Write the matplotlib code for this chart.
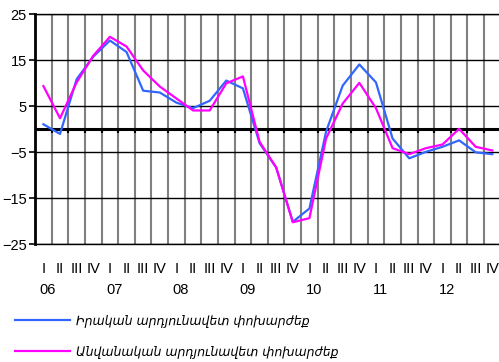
import numpy as np
import matplotlib.pyplot as plt
from matplotlib.font_manager import FontProperties

plt.rcParams['font.family'] = ['Liberation Sans', 'DejaVu Sans']

# Quarterly data, 2006 Q1 - 2012 Q4
# -----------------------------------------------------------------------------
quarters = ["I", "II", "III", "IV"] * 7
years = ["06", "07", "08", "09", "10", "11", "12"]

real_eer = [1.1, -1.0, 10.9, 15.8, 19.3, 16.8, 8.4, 8.0, 5.8, 4.6,
            6.2, 10.6, 8.9, -3.0, -8.3, -20.1, -17.2, -0.5, 9.5, 14.1,
            10.2, -2.0, -6.3, -4.9, -3.8, -2.4, -5.0, -5.4]
nominal_eer = [9.4, 2.4, 10.2, 16.0, 20.1, 18.0, 12.8, 9.3, 6.7, 4.1,
               4.1, 10.0, 11.5, -2.7, -8.3, -20.2, -19.3, -2.0, 5.6, 10.1,
               4.6, -4.1, -5.4, -4.1, -3.3, 0.1, -3.8, -4.6]

series_labels = ["Իրական արդյունավետ փոխարժեք",
                 "Անվանական արդյունավետ փոխարժեք"]

y_ticks = [-25, -15, -5, 5, 15, 25]


# Plot
# -----------------------------------------------------------------------------
fig = plt.figure(figsize=(4.99, 3.62), dpi=100)
ax = fig.add_axes([0.0703, 0.325, 0.9297, 0.6355])

x = np.arange(len(real_eer))
bounds = np.arange(0.5, len(x) - 1)

# gray separators between quarters
ax.vlines(bounds, -25, 25, color="#808080", lw=1.5, zorder=1)

# zero line with small tick marks
ax.axhline(0, color="black", lw=2.2, zorder=2)
ax.vlines(bounds, -0.7, 0, color="black", lw=1.5, zorder=2)

ax.plot(x, real_eer, color="#3366FF", lw=1.6, label=series_labels[0], zorder=3)
ax.plot(x, nominal_eer, color="#FF00FF", lw=1.6, label=series_labels[1], zorder=3)

ax.set_xlim(-0.5, 27.4)
ax.set_ylim(-25, 25)
ax.set_yticks(y_ticks)
ax.yaxis.grid(True, color="black", lw=1.0)

ax.set_xticks(x)
ax.set_xticklabels(quarters)
ax.tick_params(axis="x", length=0, pad=13, labelsize=10.5)
ax.tick_params(axis="y", length=4, width=1.2, labelsize=10.5, pad=2)

for k, yr in enumerate(years):
    ax.text(4 * k + 0.25, -0.2, yr, transform=ax.get_xaxis_transform(),
            ha="center", va="center", fontsize=10.5)

ax.spines["right"].set_visible(False)
ax.spines["left"].set_linewidth(2)
ax.spines["top"].set_linewidth(1)
ax.spines["bottom"].set_linewidth(1)

legend_font = FontProperties(family="DejaVu Sans", style="italic", size=9)
fig.legend(loc="upper left", bbox_to_anchor=(0.030, 0.131), frameon=False,
           borderaxespad=0, borderpad=0, handlelength=4.4, handletextpad=0.5,
           labelspacing=1.45, prop=legend_font)

fig.savefig("out.png", dpi=100)
